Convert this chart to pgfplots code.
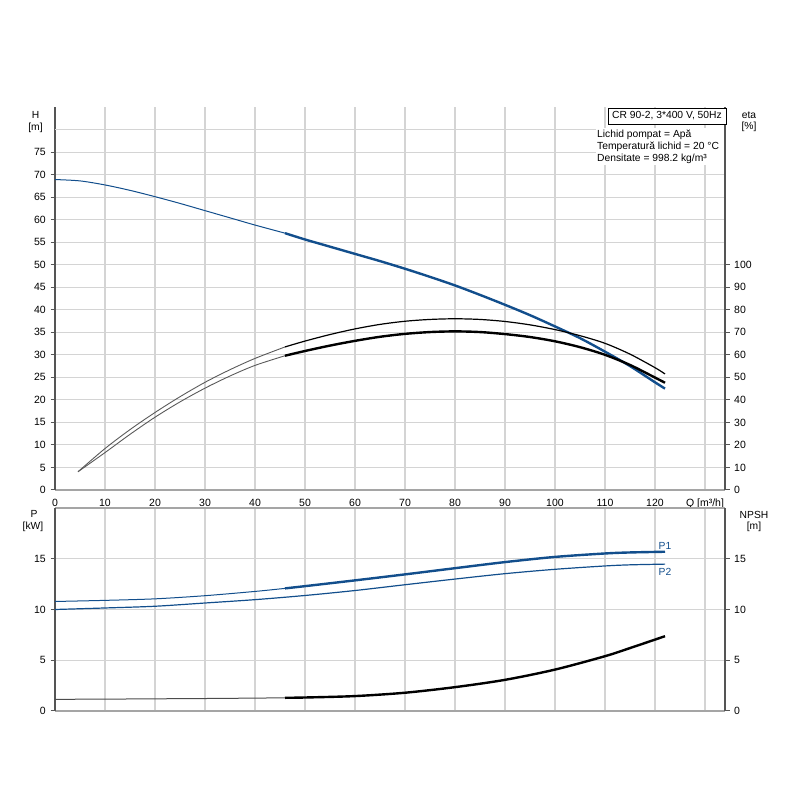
\documentclass[border=0pt]{standalone}
\usepackage{pgfplots}
\pgfplotsset{compat=1.18}
\usepackage{fontspec}
\setmainfont{Liberation Sans}
\definecolor{gblue}{RGB}{18,78,140}
\definecolor{gridc}{RGB}{212,212,212}
\definecolor{axc}{RGB}{85,85,85}
\definecolor{axl}{RGB}{165,165,165}
\begin{document}
\fontsize{10.3bp}{12.4bp}\selectfont
\begin{tikzpicture}[font=\fontsize{10.3bp}{12.4bp}\selectfont]
\path[use as bounding box] (0,0) rectangle (800bp,800bp);
\pgfplotsset{
 common/.style={scale only axis, width=670bp, xmin=0, xmax=134,
   /pgf/number format/assume math mode=true,
   tick label style={font=\fontsize{10.5bp}{12.6bp}\selectfont},
   tick align=outside, major tick length=4.5bp,
   tick style={axc, line width=1bp},
   xtick style={draw=none},
   yticklabel style={inner sep=4.5bp},
   grid style={gridc, line width=1.1bp},
   anchor=south west,
 }
}
% ---------------- top: H ----------------
\begin{axis}[common, at={(55bp,310bp)}, height=383bp, ymin=0, ymax=85,
  axis x line*=bottom, axis y line*=left,
  x axis line style={axl, line width=2.2bp, -},
  y axis line style={axc, line width=1.6bp, -},
  xtick={0,10,...,130},
  xticklabels={0,10,20,30,40,50,60,70,80,90,100,110,120,{Q [m³/h]}},
  xticklabel style={inner sep=1bp, yshift=-3bp},
  ytick={0,5,...,75},
  extra y ticks={80}, extra y tick labels={},
  extra y tick style={major tick length=0pt, grid=major},
  grid=major]
\addplot[gblue, line width=1bp, smooth] coordinates {
(0,68.9) (5,68.6) (10,67.7) (15,66.5) (20,65.1) (25,63.6) (30,62.0) (35,60.4) (40,58.8) (46,57.0)};
\addplot[gblue, line width=2.4bp, smooth] coordinates {
(46,57.0) (50,55.6) (55,54.0) (60,52.4) (65,50.8) (70,49.1) (75,47.3) (80,45.4) (85,43.3) (90,41.1) (95,38.8) (100,36.3) (105,33.7) (110,30.7) (115,27.5) (120,23.9) (122,22.5)};
\end{axis}
% ---------------- top: eta ----------------
\begin{axis}[common, at={(55bp,310bp)}, height=383bp, ymin=0, ymax=170,
  axis y line*=right, axis x line=none,
  y axis line style={axc, line width=1.6bp, -},
  ytick={0,10,...,100}]
\addplot[black!65, line width=0.9bp, smooth] coordinates {
(4.6,8.1) (10,18.4) (15,26.8) (20,34.4) (25,41.4) (30,47.8) (35,53.4) (40,58.4) (46,63.5)};
\addplot[black!65, line width=0.9bp, smooth] coordinates {
(4.6,8.1) (10,16.6) (15,24.7) (20,32.3) (25,39.1) (30,45.2) (35,50.6) (40,55.3) (46,59.6)};
\addplot[black, line width=1.2bp, smooth] coordinates {
(46,63.5) (50,66.1) (55,69.0) (60,71.5) (65,73.5) (70,74.9) (75,75.7) (80,76.0) (85,75.7) (90,74.8) (95,73.3) (100,71.2) (105,68.5) (110,65.1) (115,60.3) (120,54.3) (122,51.5)};
\addplot[black, line width=2.4bp, smooth] coordinates {
(46,59.6) (50,61.7) (55,64.1) (60,66.2) (65,68.0) (70,69.3) (75,70.1) (80,70.4) (85,70.1) (90,69.2) (95,67.9) (100,66.0) (105,63.4) (110,60.0) (115,55.5) (120,49.9) (122,47.6)};
\end{axis}
% ---------------- bottom: P ----------------
\begin{axis}[common, at={(55bp,89bp)}, height=203bp, ymin=0, ymax=20,
  separate axis lines,
  x axis line style={axl, line width=2.2bp},
  y axis line style={axc, line width=1.6bp},
  xtick={0,10,...,130}, xticklabels={}, xtick pos=bottom, ytick pos=left,
  ytick={0,5,10,15},
  grid=major]
\addplot[gblue, line width=1bp, smooth] coordinates {
(0,10.79) (10,10.9) (20,11.05) (30,11.36) (40,11.78) (46,12.08)};
\addplot[gblue, line width=2.4bp, smooth] coordinates {
(46,12.08) (50,12.3) (60,12.87) (70,13.46) (80,14.07) (90,14.67) (100,15.18) (110,15.52) (115,15.62) (122,15.69)};
\addplot[gblue, line width=1.2bp, smooth] coordinates {
(0,10.0) (10,10.15) (20,10.32) (30,10.64) (40,10.97) (50,11.38) (60,11.87) (70,12.44) (80,13.0) (90,13.53) (100,13.96) (110,14.29) (115,14.4) (122,14.47)};
\addplot[black!70, line width=1bp, smooth] coordinates {
(0,1.15) (10,1.17) (20,1.2) (30,1.23) (40,1.27) (46,1.3)};
\addplot[black, line width=2.4bp, smooth] coordinates {
(46,1.3) (50,1.33) (60,1.47) (70,1.8) (80,2.35) (90,3.07) (100,4.08) (110,5.4) (115,6.2) (122,7.37)};
\node[gblue, anchor=west, inner sep=0] at (axis cs:120.7,16.3) {P1};
\node[gblue, anchor=west, inner sep=0] at (axis cs:120.7,13.7) {P2};
\end{axis}
% ---------------- bottom: NPSH ----------------
\begin{axis}[common, at={(55bp,89bp)}, height=203bp, ymin=0, ymax=20,
  axis y line*=right, axis x line=none,
  y axis line style={axc, line width=1.6bp, -},
  ytick={0,5,10,15}]
\end{axis}
% ---------------- labels ----------------
\node at (35.5bp,685bp) {H};
\node at (35.5bp,672.5bp) {[m]};
\node at (749bp,685bp) {eta};
\node at (749bp,673bp) {[\%]};
\node at (34bp,286bp) {P};
\node at (33bp,273bp) {[kW]};
\node at (754bp,285bp) {NPSH};
\node at (754bp,273bp) {[m]};
\fill[white] (596bp,635bp) rectangle (724bp,672bp);
\node[draw=black, line width=0.8bp, fill=white, minimum width=118bp, minimum height=16bp, inner sep=0] at (667bp,684bp) {CR 90-2, 3*400 V, 50Hz};
\node[anchor=west, inner sep=0] at (597bp,665.7bp) {Lichid pompat = Apă};
\node[anchor=west, inner sep=0] at (597bp,653.3bp) {Temperatură lichid = 20 °C};
\node[anchor=west, inner sep=0] at (597bp,641bp) {Densitate = 998.2 kg/m³};
\end{tikzpicture}
\end{document}
